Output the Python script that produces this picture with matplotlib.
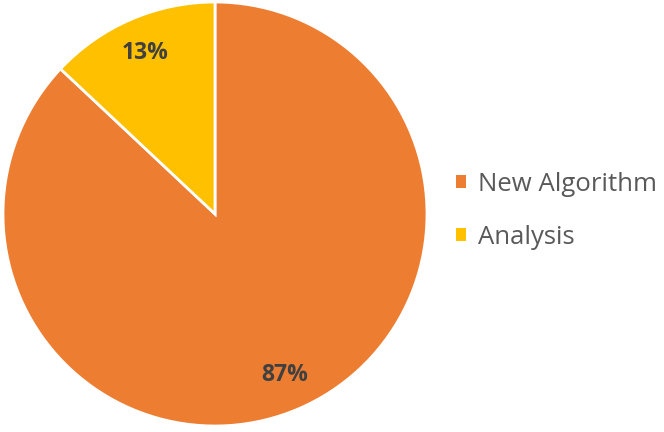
import matplotlib.pyplot as plt
from matplotlib.patches import Patch

labels = ["New Algorithm", "Analysis"]
values = [87, 13]
colors = ["#ED7D31", "#FFC000"]

plt.rcParams['font.family'] = ['Open Sans', 'DejaVu Sans']

fig = plt.figure(figsize=(6.64, 4.32), dpi=100)
cx, cy, r = 215, 432 - 214, 212
ax = fig.add_axes([(cx - r) / 664, (cy - r) / 432, 2 * r / 664, 2 * r / 432])
wedges, texts, autotexts = ax.pie(
    values, colors=colors, startangle=90, counterclock=False,
    autopct='%d%%', pctdistance=0.83,
    wedgeprops=dict(edgecolor='white', linewidth=2),
    textprops=dict(color='#404040', fontsize=16.5, fontweight='bold'))
ax.set_xlim(-1, 1)
ax.set_ylim(-1, 1)
ax.set_aspect('equal')

handles = [Patch(facecolor=c, edgecolor='none') for c in colors]
fig.legend(handles, labels, loc='center left', bbox_to_anchor=(448 / 664, 1 - 211 / 432),
           frameon=False, fontsize=18.5, labelcolor='#595959',
           handlelength=0.4, handleheight=0.4, handletextpad=0.45, labelspacing=1.08,
           borderpad=0.3, borderaxespad=0)

fig.savefig('out.png', dpi=100)
